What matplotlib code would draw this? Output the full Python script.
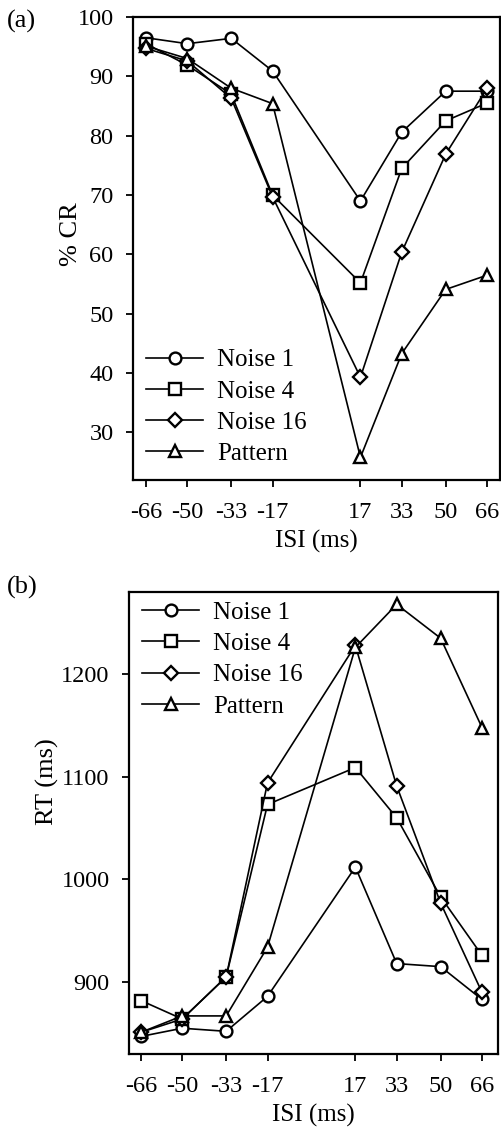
import matplotlib
matplotlib.use("Agg")
import matplotlib.pyplot as plt

plt.rcParams['font.family'] = ['Liberation Serif', 'DejaVu Serif']
plt.rcParams['font.size'] = 17.5

isi = [-66, -50, -33, -17, 17, 33, 50, 66]
isi_labels = ['-66', '-50', '-33', '-17', '17', '33', '50', '66']
series_names = ['Noise 1', 'Noise 4', 'Noise 16', 'Pattern']
series_markers = ['o', 's', 'D', '^']

# (a) percent correct rejections
cr_noise1 = [96.5, 95.5, 96.4, 90.9, 69.0, 80.6, 87.5, 87.5]
cr_noise4 = [95.5, 91.9, 87.0, 70.0, 55.2, 74.5, 82.5, 85.5]
cr_noise16 = [94.7, 92.6, 86.3, 69.7, 39.3, 60.4, 76.9, 88.0]
cr_pattern = [95.1, 93.0, 88.0, 85.4, 25.8, 43.3, 54.1, 56.5]

# (b) reaction times
rt_noise1 = [847, 855, 852, 886, 1012, 918, 915, 883]
rt_noise4 = [882, 864, 905, 1073, 1109, 1060, 983, 926]
rt_noise16 = [851, 864, 905, 1094, 1228, 1091, 977, 890]
rt_pattern = [851, 867, 867, 934, 1226, 1268, 1235, 1148]

fig = plt.figure(figsize=(5.01, 11.32), dpi=100)
ax_a = fig.add_axes([0.2655, 0.576, 0.7325, 0.409])
ax_b = fig.add_axes([0.2575, 0.069, 0.7365, 0.408])


def draw_panel(ax, data):
    for vals, name, mk in zip(data, series_names, series_markers):
        ms = 8.5
        if mk == 'D':
            ms = 7.5
        elif mk == 's':
            ms = 8
        ax.plot(isi, vals, color='black', lw=1.2, marker=mk, ms=ms,
                mfc='white', mec='black', mew=1.7, label=name)
    ax.set_xticks(isi)
    ax.set_xticklabels(isi_labels)
    ax.set_xlabel('ISI (ms)', labelpad=5, fontsize=18)
    ax.tick_params(axis='x', direction='out', length=5, width=1.3, pad=11)
    ax.tick_params(axis='y', direction='out', length=5, width=1.3, pad=9)
    for sp in ax.spines.values():
        sp.set_linewidth(1.6)


legend_kw = dict(loc='upper left', frameon=False, borderaxespad=0, borderpad=0,
                 handlelength=2.3, handletextpad=0.55, labelspacing=0.35,
                 fontsize=18)

draw_panel(ax_a, [cr_noise1, cr_noise4, cr_noise16, cr_pattern])
ax_a.set_xlim(-71, 71)
ax_a.set_ylim(22, 100)
ax_a.set_yticks([30, 40, 50, 60, 70, 80, 90, 100])
ax_a.set_ylabel('% CR', fontsize=19)
ax_a.yaxis.set_label_coords(-0.14, 0.53)
ax_a.legend(bbox_to_anchor=(0.035, 0.283), **legend_kw)

draw_panel(ax_b, [rt_noise1, rt_noise4, rt_noise16, rt_pattern])
ax_b.set_xlim(-70.6, 72.2)
ax_b.set_ylim(830, 1280)
ax_b.set_yticks([900, 1000, 1100, 1200])
ax_b.set_ylabel('RT (ms)', fontsize=19)
ax_b.yaxis.set_label_coords(-0.19, 0.59)
ax_b.legend(bbox_to_anchor=(0.035, 0.98), **legend_kw)

fig.text(0.014, 0.991, '(a)', fontsize=19, va='top', ha='left')
fig.text(0.014, 0.491, '(b)', fontsize=19, va='top', ha='left')

fig.savefig('out.png', dpi=100)
